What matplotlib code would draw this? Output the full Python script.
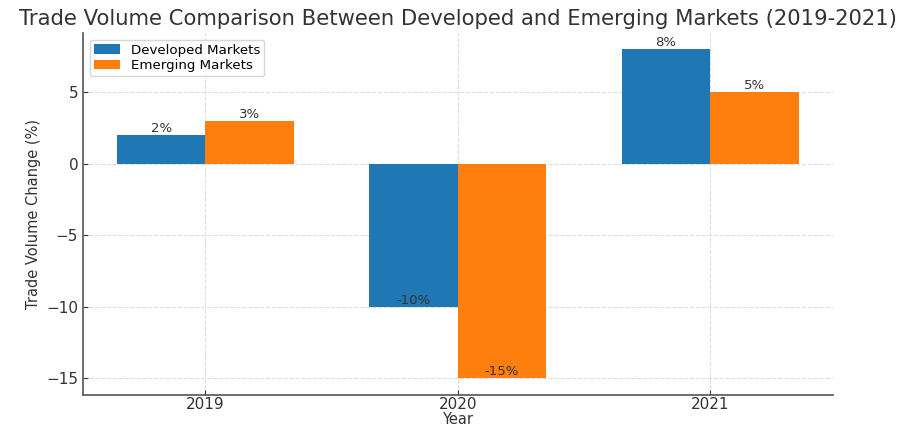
import matplotlib
matplotlib.use("Agg")
import matplotlib.pyplot as plt
import numpy as np

years = ["2019", "2020", "2021"]
developed = [2, -10, 8]
emerging = [3, -15, 5]

plt.rcParams['font.family'] = ['DejaVu Sans']

fig = plt.figure(figsize=(9.07, 4.29), dpi=100)
ax = fig.add_axes([0.0915, 0.08, 0.8265, 0.843])

bar_width = 0.35
idx = np.arange(len(years))

b1 = ax.bar(idx - bar_width / 2, developed, width=bar_width, color='#1f77b4', label='Developed Markets')
b2 = ax.bar(idx + bar_width / 2, emerging, width=bar_width, color='#ff7f0e', label='Emerging Markets')

for bars, vals in [(b1, developed), (b2, emerging)]:
    for rect, v in zip(bars, vals):
        ax.text(rect.get_x() + rect.get_width() / 2, v, f'{v}%',
                ha='center', va='bottom', fontsize=9.5, color='#333333')

ax.set_xticks(idx)
ax.set_xticklabels(years)
ax.set_xlabel('Year', fontsize=10.5, color='#333333', labelpad=0)
ax.set_ylabel('Trade Volume Change (%)', fontsize=10.5, color='#333333')
ax.set_title('Trade Volume Comparison Between Developed and Emerging Markets (2019-2021)',
             fontsize=15.2, color='#333333', pad=6)

ax.grid(True, linestyle='--', color='#dddddd', linewidth=0.8)
ax.set_axisbelow(True)
for s in ['top', 'right']:
    ax.spines[s].set_visible(False)
for s in ['left', 'bottom']:
    ax.spines[s].set_color('#555555')
    ax.spines[s].set_linewidth(1.2)
ax.tick_params(direction='in', labelsize=11, colors='#333333')
ax.tick_params(axis='x', pad=2)

ax.legend(loc='upper left', fontsize=9.6, framealpha=0.8, borderpad=0.3, labelspacing=0.2)

fig.savefig('out.png', dpi=100)
